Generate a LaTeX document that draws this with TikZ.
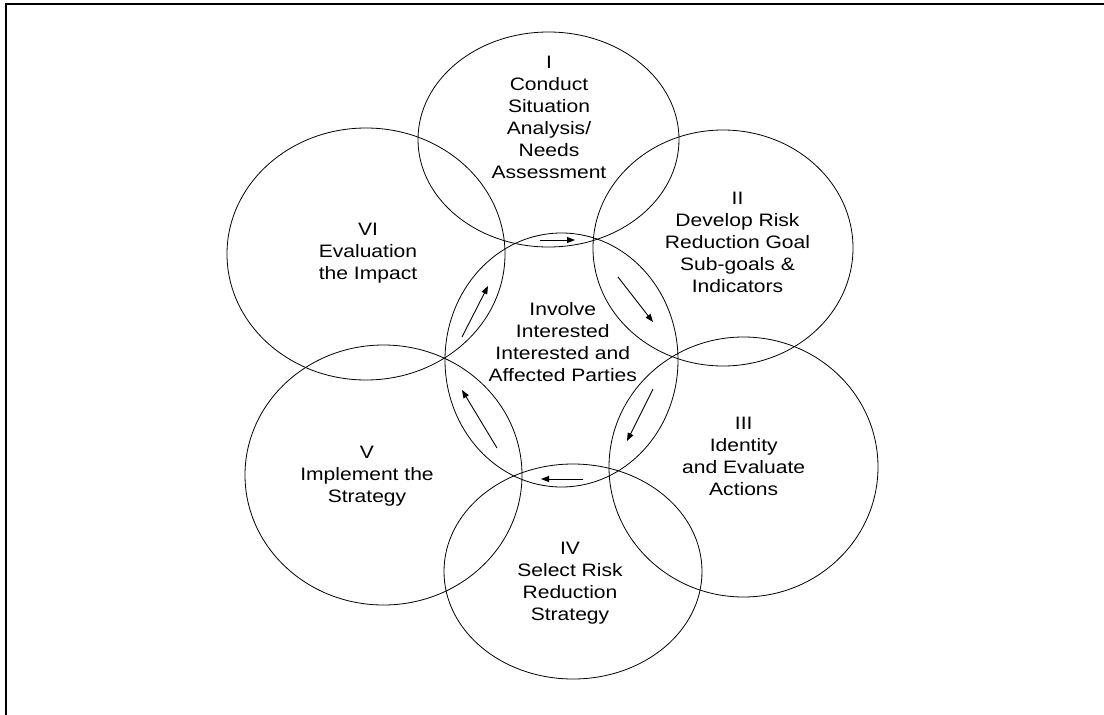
\documentclass[tikz,border=0pt]{standalone}
\usepackage{fontspec}
\setmainfont{Liberation Sans}
\usepackage{graphicx}
\usetikzlibrary{shapes.geometric,arrows.meta}

% multi-line label, slightly widened
\newcommand\widelabel[1]{\scalebox{1.17}[1]{\begin{tabular}{@{}c@{}}#1\end{tabular}}}

\begin{document}
\begin{tikzpicture}[x=1pt,y=-1pt,
  ring/.style={draw, ellipse, inner sep=0pt, line width=0.8pt},
  lbl/.style={anchor=north, inner sep=0pt, font=\fontsize{18}{22}\selectfont},
  flow/.style={line width=0.9pt, -{Triangle[length=8pt,width=6pt]}}]
\useasboundingbox (0,0) rectangle (1104,715);

% page frame (left and top edges)
\draw[line width=2pt] (6,715) -- (6,4) -- (1104,4);

% stage rings
\node[ring, minimum width=261pt, minimum height=215pt] (ringI)   at (548.5,139.5) {};
\node[ring, minimum width=260pt, minimum height=236pt] (ringII)  at (723,248) {};
\node[ring, minimum width=269pt, minimum height=260pt] (ringIII) at (743.5,467) {};
\node[ring, minimum width=258pt, minimum height=215pt] (ringIV)  at (573,571.5) {};
\node[ring, minimum width=277pt, minimum height=260pt] (ringV)   at (383.5,475) {};
\node[ring, minimum width=278pt, minimum height=252pt] (ringVI)  at (366,254) {};
\node[ring, minimum width=233pt, minimum height=254pt] (hub)     at (561.5,360) {};

% stage texts
\node[lbl] (tI)   at (549,52.5)    {\widelabel{I\\Conduct\\Situation\\Analysis/\\Needs\\Assessment}};
\node[lbl] (tII)  at (737.5,189.2) {\widelabel{II\\Develop Risk\\Reduction Goal\\Sub-goals \&\\Indicators}};
\node[lbl] (tIII) at (743.7,413.5) {\widelabel{III\\Identity\\and Evaluate\\Actions}};
\node[lbl] (tIV)  at (570,539.2)   {\widelabel{IV\\Select Risk\\Reduction\\Strategy}};
\node[lbl] (tV)   at (367,442.5)   {\widelabel{V\\Implement the\\Strategy}};
\node[lbl] (tVI)  at (368,220.2)   {\widelabel{VI\\Evaluation\\the Impact}};
\node[lbl] (tHub) at (562.8,300.2) {\widelabel{Involve\\Interested\\Interested and\\Affected Parties}};

% cycle arrows around the hub
\coordinate (a1s) at (540,240);   \coordinate (a1e) at (575,240);
\coordinate (a2s) at (618,277);   \coordinate (a2e) at (653,322);
\coordinate (a3s) at (653,389);   \coordinate (a3e) at (627,441);
\coordinate (a4s) at (583,479);   \coordinate (a4e) at (541,479);
\coordinate (a5s) at (497,448);   \coordinate (a5e) at (462,390);
\coordinate (a6s) at (462,337);   \coordinate (a6e) at (488,286);
\draw[flow] (a1s) -- (a1e);
\draw[flow] (a2s) -- (a2e);
\draw[flow] (a3s) -- (a3e);
\draw[flow] (a4s) -- (a4e);
\draw[flow] (a5s) -- (a5e);
\draw[flow] (a6s) -- (a6e);
\end{tikzpicture}
\end{document}
